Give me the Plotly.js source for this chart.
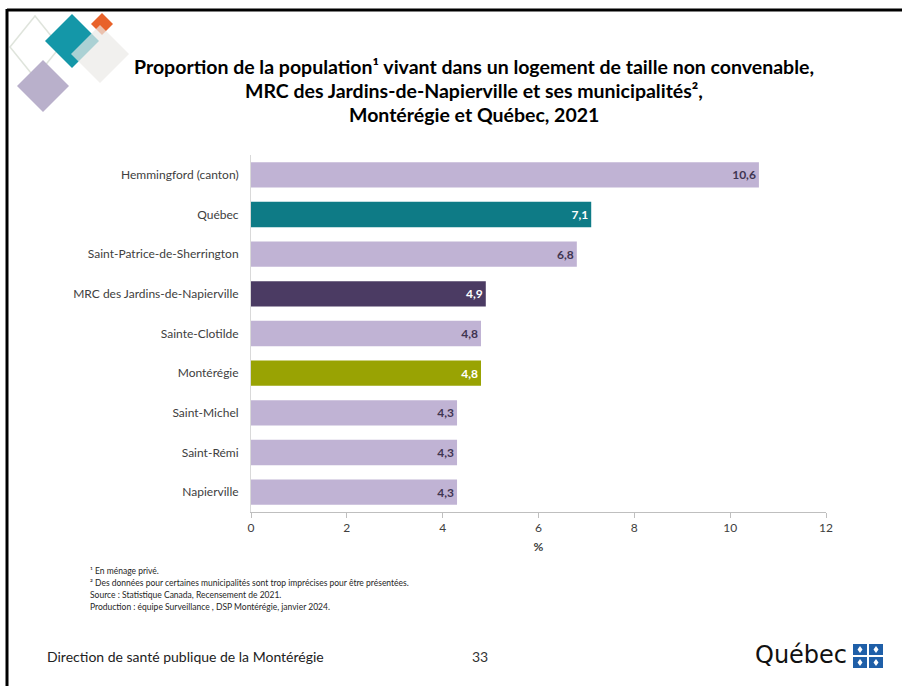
<!DOCTYPE html>
<html>
<head>
<meta charset="utf-8">
<script src="https://cdn.plot.ly/plotly-3.0.1.min.js"></script>
<style>
html,body{margin:0;padding:0;background:#fff;}
#chart{width:902px;height:686px;}
</style>
</head>
<body>
<div id="chart"></div>
<script>
// ---- Data ----
var categories = [
  "Hemmingford (canton)",
  "Québec",
  "Saint-Patrice-de-Sherrington",
  "MRC des Jardins-de-Napierville",
  "Sainte-Clotilde",
  "Montérégie",
  "Saint-Michel",
  "Saint-Rémi",
  "Napierville"
];
var values = [10.6, 7.1, 6.8, 4.9, 4.8, 4.8, 4.3, 4.3, 4.3];
var xTickValues = [0, 2, 4, 6, 8, 10, 12];
var titleLines = [
  "Proportion de la population¹ vivant dans un logement de taille non convenable,",
  "MRC des Jardins-de-Napierville et ses municipalités²,",
  "Montérégie et Québec, 2021"
];
var footnotes = [
  "¹ En ménage privé.",
  "² Des données pour certaines municipalités sont trop imprécises pour être présentées.",
  "Source : Statistique Canada, Recensement de 2021.",
  "Production : équipe Surveillance , DSP Montérégie, janvier 2024."
];

// ---- Styles ----
var W = 902, H = 686;
var M = {l: 251, r: 76, t: 155, b: 174};
var PW = W - M.l - M.r, PH = H - M.t - M.b;
var styleFor = {
  "Québec": {bar: "#0e7b86", text: "#ffffff"},
  "MRC des Jardins-de-Napierville": {bar: "#4b3b63", text: "#ffffff"},
  "Montérégie": {bar: "#99a303", text: "#ffffff"}
};
var defBar = "#c0b3d4", defText = "#3f3552";
var barColors = categories.map(function(c){ return styleFor[c] ? styleFor[c].bar : defBar; });
var textColors = categories.map(function(c){ return styleFor[c] ? styleFor[c].text : defText; });
var labels = values.map(function(v){ return v.toFixed(1).replace(".", ","); });

function px(x){ return (x - M.l) / PW; }
function py(y){ return (H - M.b - y) / PH; }
function diamond(cx, cy, hx, hy){
  return "M" + px(cx - hx) + "," + py(cy) + " L" + px(cx) + "," + py(cy - hy) +
         " L" + px(cx + hx) + "," + py(cy) + " L" + px(cx) + "," + py(cy + hy) + " Z";
}
function rectShape(x0, y0, x1, y1, color){
  return {type: "rect", xref: "paper", yref: "paper", x0: px(x0), x1: px(x1), y0: py(y1), y1: py(y0),
    fillcolor: color, line: {width: 0}, layer: "above"};
}

var shapes = [
  // slide frame
  {type: "line", xref: "paper", yref: "paper", x0: px(7), x1: px(905), y0: py(10), y1: py(10), line: {color: "#000", width: 3}},
  {type: "line", xref: "paper", yref: "paper", x0: px(7), x1: px(7), y0: py(9), y1: py(690), line: {color: "#000", width: 3}},
  // decoration
  {type: "path", xref: "paper", yref: "paper", path: diamond(35, 47, 25, 31), fillcolor: "rgba(0,0,0,0)", line: {color: "#dfe4dc", width: 1.5}},
  {type: "path", xref: "paper", yref: "paper", path: diamond(43, 86, 26, 26), fillcolor: "#b9b0cb", line: {width: 0}},
  {type: "path", xref: "paper", yref: "paper", path: diamond(72, 41, 27, 27), fillcolor: "#1497a8", line: {width: 0}},
  {type: "path", xref: "paper", yref: "paper", path: diamond(102, 24, 11, 11), fillcolor: "#e8622a", line: {width: 0}},
  {type: "path", xref: "paper", yref: "paper", path: diamond(100, 54, 29, 29), fillcolor: "#ebe9e7", opacity: 0.7, line: {width: 0}}
];
// Québec flag logo: four blue squares with small white emblems
[[853, 644], [869, 644], [853, 657], [869, 657]].forEach(function(p){
  shapes.push(rectShape(p[0], p[1], p[0] + 14, p[1] + 11, "#1f5fa8"));
  shapes.push({type: "path", xref: "paper", yref: "paper", path: diamond(p[0] + 7, p[1] + 5.5, 2.5, 3.5),
    fillcolor: "#ffffff", line: {width: 0}, layer: "above"});
});

var annotations = [];
var titleY = [66, 90, 115];
titleLines.forEach(function(t, i){
  annotations.push({text: "<b>" + t + "</b>", xref: "paper", yref: "paper", x: px(474), y: py(titleY[i]),
    xanchor: "center", yanchor: "middle", showarrow: false,
    font: {family: "Lato, 'Open Sans', sans-serif", size: 19.5, color: "#000"}});
});
var fnY = [571, 583, 595, 607];
footnotes.forEach(function(t, i){
  annotations.push({text: t, xref: "paper", yref: "paper", x: px(88), y: py(fnY[i]),
    xanchor: "left", yanchor: "middle", showarrow: false,
    font: {family: "Lato, sans-serif", size: 8.5, color: "#262626"}});
});
annotations.push({text: "Direction de santé publique de la Montérégie", xref: "paper", yref: "paper",
  x: px(45), y: py(656), xanchor: "left", yanchor: "middle", showarrow: false,
  font: {family: "Lato, sans-serif", size: 14, color: "#222"}});
annotations.push({text: "33", xref: "paper", yref: "paper",
  x: px(480), y: py(656), xanchor: "center", yanchor: "middle", showarrow: false,
  font: {family: "Lato, sans-serif", size: 14, color: "#333"}});
annotations.push({text: "Québec", xref: "paper", yref: "paper",
  x: px(849), y: py(655), xanchor: "right", yanchor: "middle", showarrow: false,
  font: {family: "'DejaVu Sans', sans-serif", size: 24, color: "#111"}});

var trace = {
  type: "bar",
  orientation: "h",
  y: categories,
  x: values,
  text: labels,
  textposition: "inside",
  insidetextanchor: "end",
  textangle: 0,
  texttemplate: "<b>%{text}</b>",
  textfont: {family: "Lato, sans-serif", size: 12, color: textColors},
  marker: {color: barColors, line: {width: 0}},
  hoverinfo: "none",
  cliponaxis: false
};

var layout = {
  width: W, height: H,
  margin: M,
  paper_bgcolor: "#fff",
  plot_bgcolor: "#fff",
  showlegend: false,
  bargap: 0.36,
  font: {family: "Lato, sans-serif", color: "#404040"},
  xaxis: {
    range: [0, 12],
    tickvals: xTickValues,
    ticktext: xTickValues.map(String),
    showgrid: false, zeroline: false,
    showline: true, linecolor: "#bfbfbf", linewidth: 1,
    ticks: "outside", ticklen: 5, tickcolor: "#bfbfbf",
    tickfont: {family: "Lato, sans-serif", size: 12, color: "#404040"},
    title: {text: "<b>%</b>", font: {family: "Lato, sans-serif", size: 12, color: "#404040"}, standoff: 8},
    fixedrange: true
  },
  yaxis: {
    autorange: "reversed",
    type: "category",
    showgrid: false, zeroline: false,
    showline: true, linecolor: "#d9d9d9", linewidth: 1,
    ticks: "", ticklabelstandoff: 9,
    tickfont: {family: "Lato, sans-serif", size: 12, color: "#404040"},
    fixedrange: true
  },
  shapes: shapes,
  annotations: annotations
};

Plotly.newPlot("chart", [trace], layout, {displayModeBar: false, staticPlot: true});
</script>
</body>
</html>
